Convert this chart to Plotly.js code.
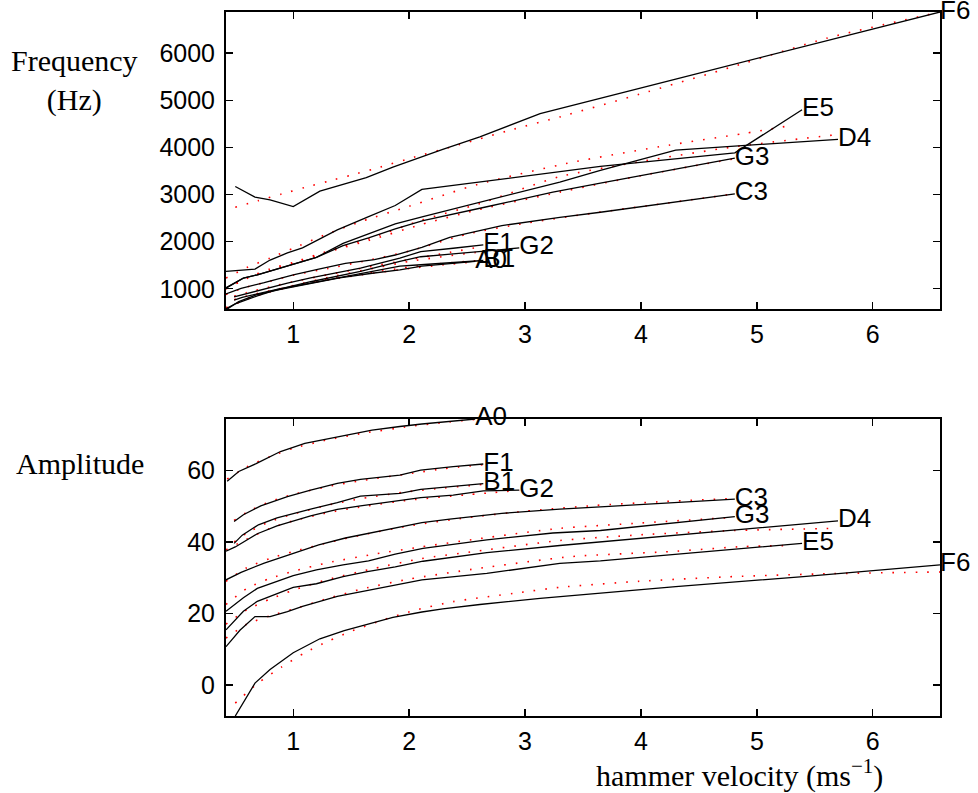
<!DOCTYPE html>
<html><head><meta charset="utf-8">
<script src="https://cdn.plot.ly/plotly-3.0.1.min.js"></script>
<style>html,body{margin:0;padding:0;background:#fff}#chart{width:978px;height:793px}</style>
</head><body><div id="chart"></div>
<script>
// ---- notes ----
const notes = ['A0','F1','B1','G2','C3','G3','D4','E5','F6'];

// ---- measured data: hammer velocity (m/s), frequency (Hz), amplitude ----
const vel_A0  = [0.43, 0.53, 0.68, 0.89, 1.1, 1.4, 1.68, 1.92, 2.11, 2.57];
const freq_A0 = [570, 730, 870, 990, 1090, 1230, 1330, 1400, 1480, 1580];
const amp_A0  = [57.0, 59.7, 61.9, 65.3, 67.6, 69.6, 71.3, 72.3, 73.0, 74.4];

const vel_F1  = [0.49, 0.57, 0.72, 0.95, 1.15, 1.38, 1.58, 1.92, 2.1, 2.38, 2.64];
const freq_F1 = [830, 880, 990, 1120, 1230, 1350, 1440, 1650, 1790, 1860, 1930];
const amp_F1  = [45.7, 47.6, 50.1, 52.7, 54.5, 56.4, 57.5, 58.7, 60.1, 61.1, 61.8];

const vel_B1  = [0.49, 0.56, 0.7, 0.86, 1.15, 1.38, 1.58, 1.92, 2.1, 2.38, 2.64];
const freq_B1 = [760, 820, 900, 990, 1120, 1230, 1330, 1480, 1510, 1560, 1600];
const amp_B1  = [39.6, 41.9, 44.8, 46.7, 49.2, 51.0, 52.8, 53.6, 54.7, 55.6, 56.3];

const vel_G2  = [0.42, 0.5, 0.69, 0.86, 1.15, 1.38, 1.58, 1.92, 2.1, 2.38, 2.64, 2.95];
const freq_G2 = [575, 680, 850, 980, 1150, 1270, 1370, 1580, 1680, 1740, 1800, 1866];
const amp_G2  = [37.4, 38.6, 42.3, 44.5, 47.3, 49.1, 50.1, 51.5, 52.4, 53.1, 54.3, 54.5];

const vel_C3  = [0.42, 0.55, 0.75, 1.0, 1.22, 1.45, 1.7, 1.88, 2.11, 2.35, 2.8, 3.3, 3.65, 4.81];
const freq_C3 = [890, 1010, 1130, 1298, 1419, 1538, 1620, 1717, 1879, 2092, 2340, 2517, 2624, 3015];
const amp_C3  = [29.4, 31.5, 34.1, 36.9, 39.2, 41.1, 42.8, 43.9, 45.4, 46.4, 48.0, 49.2, 49.8, 52.0];

const vel_G3  = [0.42, 0.57, 0.69, 1.0, 1.2, 1.43, 1.65, 1.88, 2.12, 2.67, 3.24, 3.65, 4.81];
const freq_G3 = [1015, 1228, 1298, 1526, 1666, 1915, 2079, 2270, 2447, 2740, 3050, 3241, 3773];
const amp_G3  = [20.6, 24.4, 27.0, 30.6, 32.2, 33.6, 34.7, 36.6, 38.2, 40.6, 42.5, 43.2, 47.1];

const vel_D4  = [0.42, 0.57, 0.69, 1.0, 1.2, 1.43, 1.64, 1.88, 2.12, 2.67, 3.3, 3.65, 4.3, 5.7];
const freq_D4 = [1021, 1228, 1298, 1526, 1666, 1964, 2164, 2377, 2532, 2870, 3262, 3511, 3943, 4171];
const amp_D4  = [15.4, 20.6, 23.4, 27.3, 28.3, 30.3, 31.7, 33.0, 34.6, 37.0, 39.0, 40.0, 41.8, 45.9];

const vel_E5  = [0.42, 0.54, 0.67, 0.8, 0.95, 1.08, 1.38, 1.64, 1.88, 2.11, 2.67, 3.3, 3.65, 4.81, 5.39];
const freq_E5 = [1368, 1390, 1419, 1610, 1760, 1870, 2250, 2520, 2766, 3107, 3285, 3496, 3596, 3883, 4798];
const amp_E5  = [10.7, 15.3, 19.1, 19.1, 20.5, 22.0, 24.8, 26.5, 27.9, 29.4, 31.2, 34.0, 34.7, 38.1, 39.6];

const vel_F6  = [0.5, 0.67, 0.8, 1.0, 1.23, 1.44, 1.63, 1.86, 2.11, 2.29, 2.61, 3.13, 4.3, 5.4, 6.58];
const freq_F6 = [3170, 2943, 2888, 2745, 3070, 3228, 3356, 3581, 3809, 3958, 4220, 4717, 5447, 6134, 6870];
const amp_F6  = [-8.7, 0.5, 4.3, 9.0, 12.9, 15.2, 16.9, 18.9, 20.4, 21.3, 22.5, 24.2, 27.5, 30.3, 33.6];

// ---- fitted curves (red dotted) ----
const fitVel_A0  = [0.43, 0.6, 0.8, 1.0, 1.3, 1.6, 2.0, 2.3, 2.57];
const freqFit_A0 = [590, 790, 940, 1050, 1190, 1300, 1430, 1510, 1570];
const ampFit_A0  = [57.6, 61.0, 63.9, 66.2, 68.6, 70.4, 72.3, 73.4, 74.3];

const fitVel_F1  = [0.49, 0.6, 0.8, 1.0, 1.3, 1.6, 2.0, 2.3, 2.64];
const freqFit_F1 = [840, 920, 1040, 1150, 1300, 1440, 1620, 1750, 1900];
const ampFit_F1  = [46.0, 48.3, 51.3, 53.3, 55.5, 57.2, 59.1, 60.5, 61.6];

const fitVel_B1  = [0.49, 0.6, 0.8, 1.0, 1.3, 1.6, 2.0, 2.3, 2.64];
const freqFit_B1 = [770, 850, 960, 1060, 1200, 1320, 1460, 1540, 1610];
const ampFit_B1  = [40.0, 42.5, 45.7, 47.8, 50.3, 52.2, 54.1, 55.1, 56.1];

const fitVel_G2  = [0.42, 0.6, 0.8, 1.0, 1.3, 1.6, 2.0, 2.5, 2.95];
const freqFit_G2 = [600, 780, 940, 1070, 1240, 1390, 1580, 1750, 1860];
const ampFit_G2  = [37.8, 40.8, 43.8, 45.9, 48.2, 49.9, 51.7, 53.2, 54.4];

const fitVel_C3  = [0.42, 0.6, 0.8, 1.0, 1.3, 1.6, 2.0, 2.5, 3.0, 3.6, 4.2, 4.81];
const freqFit_C3 = [880, 1040, 1160, 1290, 1430, 1580, 1800, 2160, 2390, 2610, 2810, 3015];
const ampFit_C3  = [29.0, 32.8, 35.4, 37.3, 39.8, 42.0, 44.5, 46.8, 48.6, 50.2, 51.3, 52.2];

const fitVel_G3  = [0.42, 0.6, 0.8, 1.0, 1.3, 1.7, 2.1, 2.6, 3.3, 4.0, 4.81];
const freqFit_G3 = [1000, 1220, 1390, 1540, 1780, 2060, 2360, 2680, 3050, 3400, 3760];
const ampFit_G3  = [22.5, 27.0, 29.8, 31.8, 34.2, 36.6, 38.6, 40.9, 43.8, 45.3, 46.9];

const fitVel_D4  = [0.42, 0.6, 0.8, 1.0, 1.3, 1.7, 2.1, 2.6, 3.3, 4.0, 4.8, 5.69];
const freqFit_D4 = [1000, 1230, 1420, 1560, 1800, 2100, 2450, 2800, 3380, 3700, 4010, 4270];
const ampFit_D4  = [17.0, 21.0, 24.0, 26.5, 29.5, 32.6, 35.3, 37.5, 40.4, 42.0, 43.2, 43.8];

const fitVel_E5  = [0.42, 0.6, 0.8, 1.0, 1.3, 1.6, 2.0, 2.6, 3.4, 4.25, 4.88, 5.31];
const freqFit_E5 = [1228, 1450, 1653, 1860, 2170, 2440, 2750, 3220, 3680, 4050, 4290, 4470];
const ampFit_E5  = [13.1, 17.0, 19.3, 21.2, 24.2, 26.9, 29.6, 32.6, 35.9, 37.3, 38.7, 39.0];

const fitVel_F6  = [0.5, 0.7, 0.9, 1.1, 1.3, 1.5, 1.75, 2.04, 2.38, 2.9, 3.3, 3.99, 4.8, 5.6, 6.58];
const freqFit_F6 = [2730, 2870, 3010, 3150, 3280, 3410, 3580, 3790, 4020, 4383, 4645, 5128, 5715, 6313, 6870];
const ampFit_F6  = [-5.1, 0.6, 5.0, 9.0, 12.2, 15.0, 17.9, 20.8, 23.3, 25.6, 27.3, 29.0, 30.3, 31.1, 31.6];

// ---- ticks ----
const velTicks  = [1, 2, 3, 4, 5, 6];
const freqTicks = [1000, 2000, 3000, 4000, 5000, 6000];
const ampTicks  = [0, 20, 40, 60];

// ---- lookup built from the arrays above ----
const S = {
  A0: [vel_A0, freq_A0, amp_A0, fitVel_A0, freqFit_A0, ampFit_A0],
  F1: [vel_F1, freq_F1, amp_F1, fitVel_F1, freqFit_F1, ampFit_F1],
  B1: [vel_B1, freq_B1, amp_B1, fitVel_B1, freqFit_B1, ampFit_B1],
  G2: [vel_G2, freq_G2, amp_G2, fitVel_G2, freqFit_G2, ampFit_G2],
  C3: [vel_C3, freq_C3, amp_C3, fitVel_C3, freqFit_C3, ampFit_C3],
  G3: [vel_G3, freq_G3, amp_G3, fitVel_G3, freqFit_G3, ampFit_G3],
  D4: [vel_D4, freq_D4, amp_D4, fitVel_D4, freqFit_D4, ampFit_D4],
  E5: [vel_E5, freq_E5, amp_E5, fitVel_E5, freqFit_E5, ampFit_E5],
  F6: [vel_F6, freq_F6, amp_F6, fitVel_F6, freqFit_F6, ampFit_F6]
};

const black = {color: '#000', width: 1.3};
const red = {color: '#ff0000', width: 1.6, dash: '1.6px,10px', shape: 'spline', smoothing: 0.6};
const labFont = {family: 'Liberation Sans, Arial, sans-serif', size: 26, color: '#000'};

const traces = [];
let allV = [], allF = [], allA = [];
notes.forEach(n => {
  const [v, f, a, fv, ff, fa] = S[n];
  allV = allV.concat(v, fv); allF = allF.concat(f, ff); allA = allA.concat(a, fa);
  traces.push({x: fv, y: ff, xaxis: 'x', yaxis: 'y', mode: 'lines', line: red, hoverinfo: 'skip', showlegend: false});
  traces.push({x: fv, y: fa, xaxis: 'x2', yaxis: 'y2', mode: 'lines', line: red, hoverinfo: 'skip', showlegend: false});
});
notes.forEach(n => {
  const [v, f, a] = S[n];
  const last = v.length - 1;
  traces.push({x: v, y: f, xaxis: 'x', yaxis: 'y', mode: 'lines', line: black, name: n, showlegend: false});
  traces.push({x: v, y: a, xaxis: 'x2', yaxis: 'y2', mode: 'lines', line: black, name: n, showlegend: false});
  traces.push({x: [v[last]], y: [f[last]], xaxis: 'x', yaxis: 'y', mode: 'text', text: [n],
    textposition: 'middle right', textfont: labFont, cliponaxis: false, showlegend: false, hoverinfo: 'skip'});
  traces.push({x: [v[last]], y: [a[last]], xaxis: 'x2', yaxis: 'y2', mode: 'text', text: [n],
    textposition: 'middle right', textfont: labFont, cliponaxis: false, showlegend: false, hoverinfo: 'skip'});
});

const xr = [Math.min(...allV), Math.max(...allV)];
const fr = [Math.min(...allF), Math.max(...allF)];
const ar = [Math.min(...allA), Math.max(...allA)];

const tickFont = {family: 'Liberation Sans, Arial, sans-serif', size: 25, color: '#000'};
const serif = {family: 'Liberation Serif, Times New Roman, serif', size: 30, color: '#000'};
const axBase = {
  showline: true, linecolor: '#000', linewidth: 2, mirror: 'ticks',
  ticks: 'inside', ticklen: 7, tickwidth: 1.3, tickcolor: '#000',
  showgrid: false, zeroline: false, tickfont: tickFont, tickmode: 'array'
};

const layout = {
  width: 978, height: 793,
  margin: {l: 226, r: 38, t: 12, b: 77},
  paper_bgcolor: '#fff', plot_bgcolor: '#fff',
  showlegend: false,
  xaxis: Object.assign({}, axBase, {domain: [0, 1], anchor: 'y', range: xr, tickvals: velTicks, ticklabelstandoff: 2}),
  yaxis: Object.assign({}, axBase, {domain: [0.578, 1], anchor: 'x', range: fr, tickvals: freqTicks, ticklabelstandoff: 4}),
  xaxis2: Object.assign({}, axBase, {domain: [0, 1], anchor: 'y2', range: xr, tickvals: velTicks, ticklabelstandoff: 2}),
  yaxis2: Object.assign({}, axBase, {domain: [0, 0.4219], anchor: 'x2', range: ar, tickvals: ampTicks, ticklabelstandoff: 4}),
  annotations: [
    {text: 'Frequency<br>(Hz)', xref: 'paper', yref: 'paper', x: -0.212, y: 0.902,
     xanchor: 'center', yanchor: 'middle', showarrow: false, font: serif},
    {text: 'Amplitude', xref: 'paper', yref: 'paper', x: -0.2045, y: 0.358,
     xanchor: 'center', yanchor: 'middle', showarrow: false, font: serif},
    {text: 'hammer velocity (ms<sup>−1</sup>)', xref: 'paper', yref: 'paper', x: 0.719, y: -0.082,
     xanchor: 'center', yanchor: 'middle', showarrow: false, font: serif}
  ]
};

Plotly.newPlot('chart', traces, layout, {staticPlot: true, displayModeBar: false});
</script>
</body></html>
